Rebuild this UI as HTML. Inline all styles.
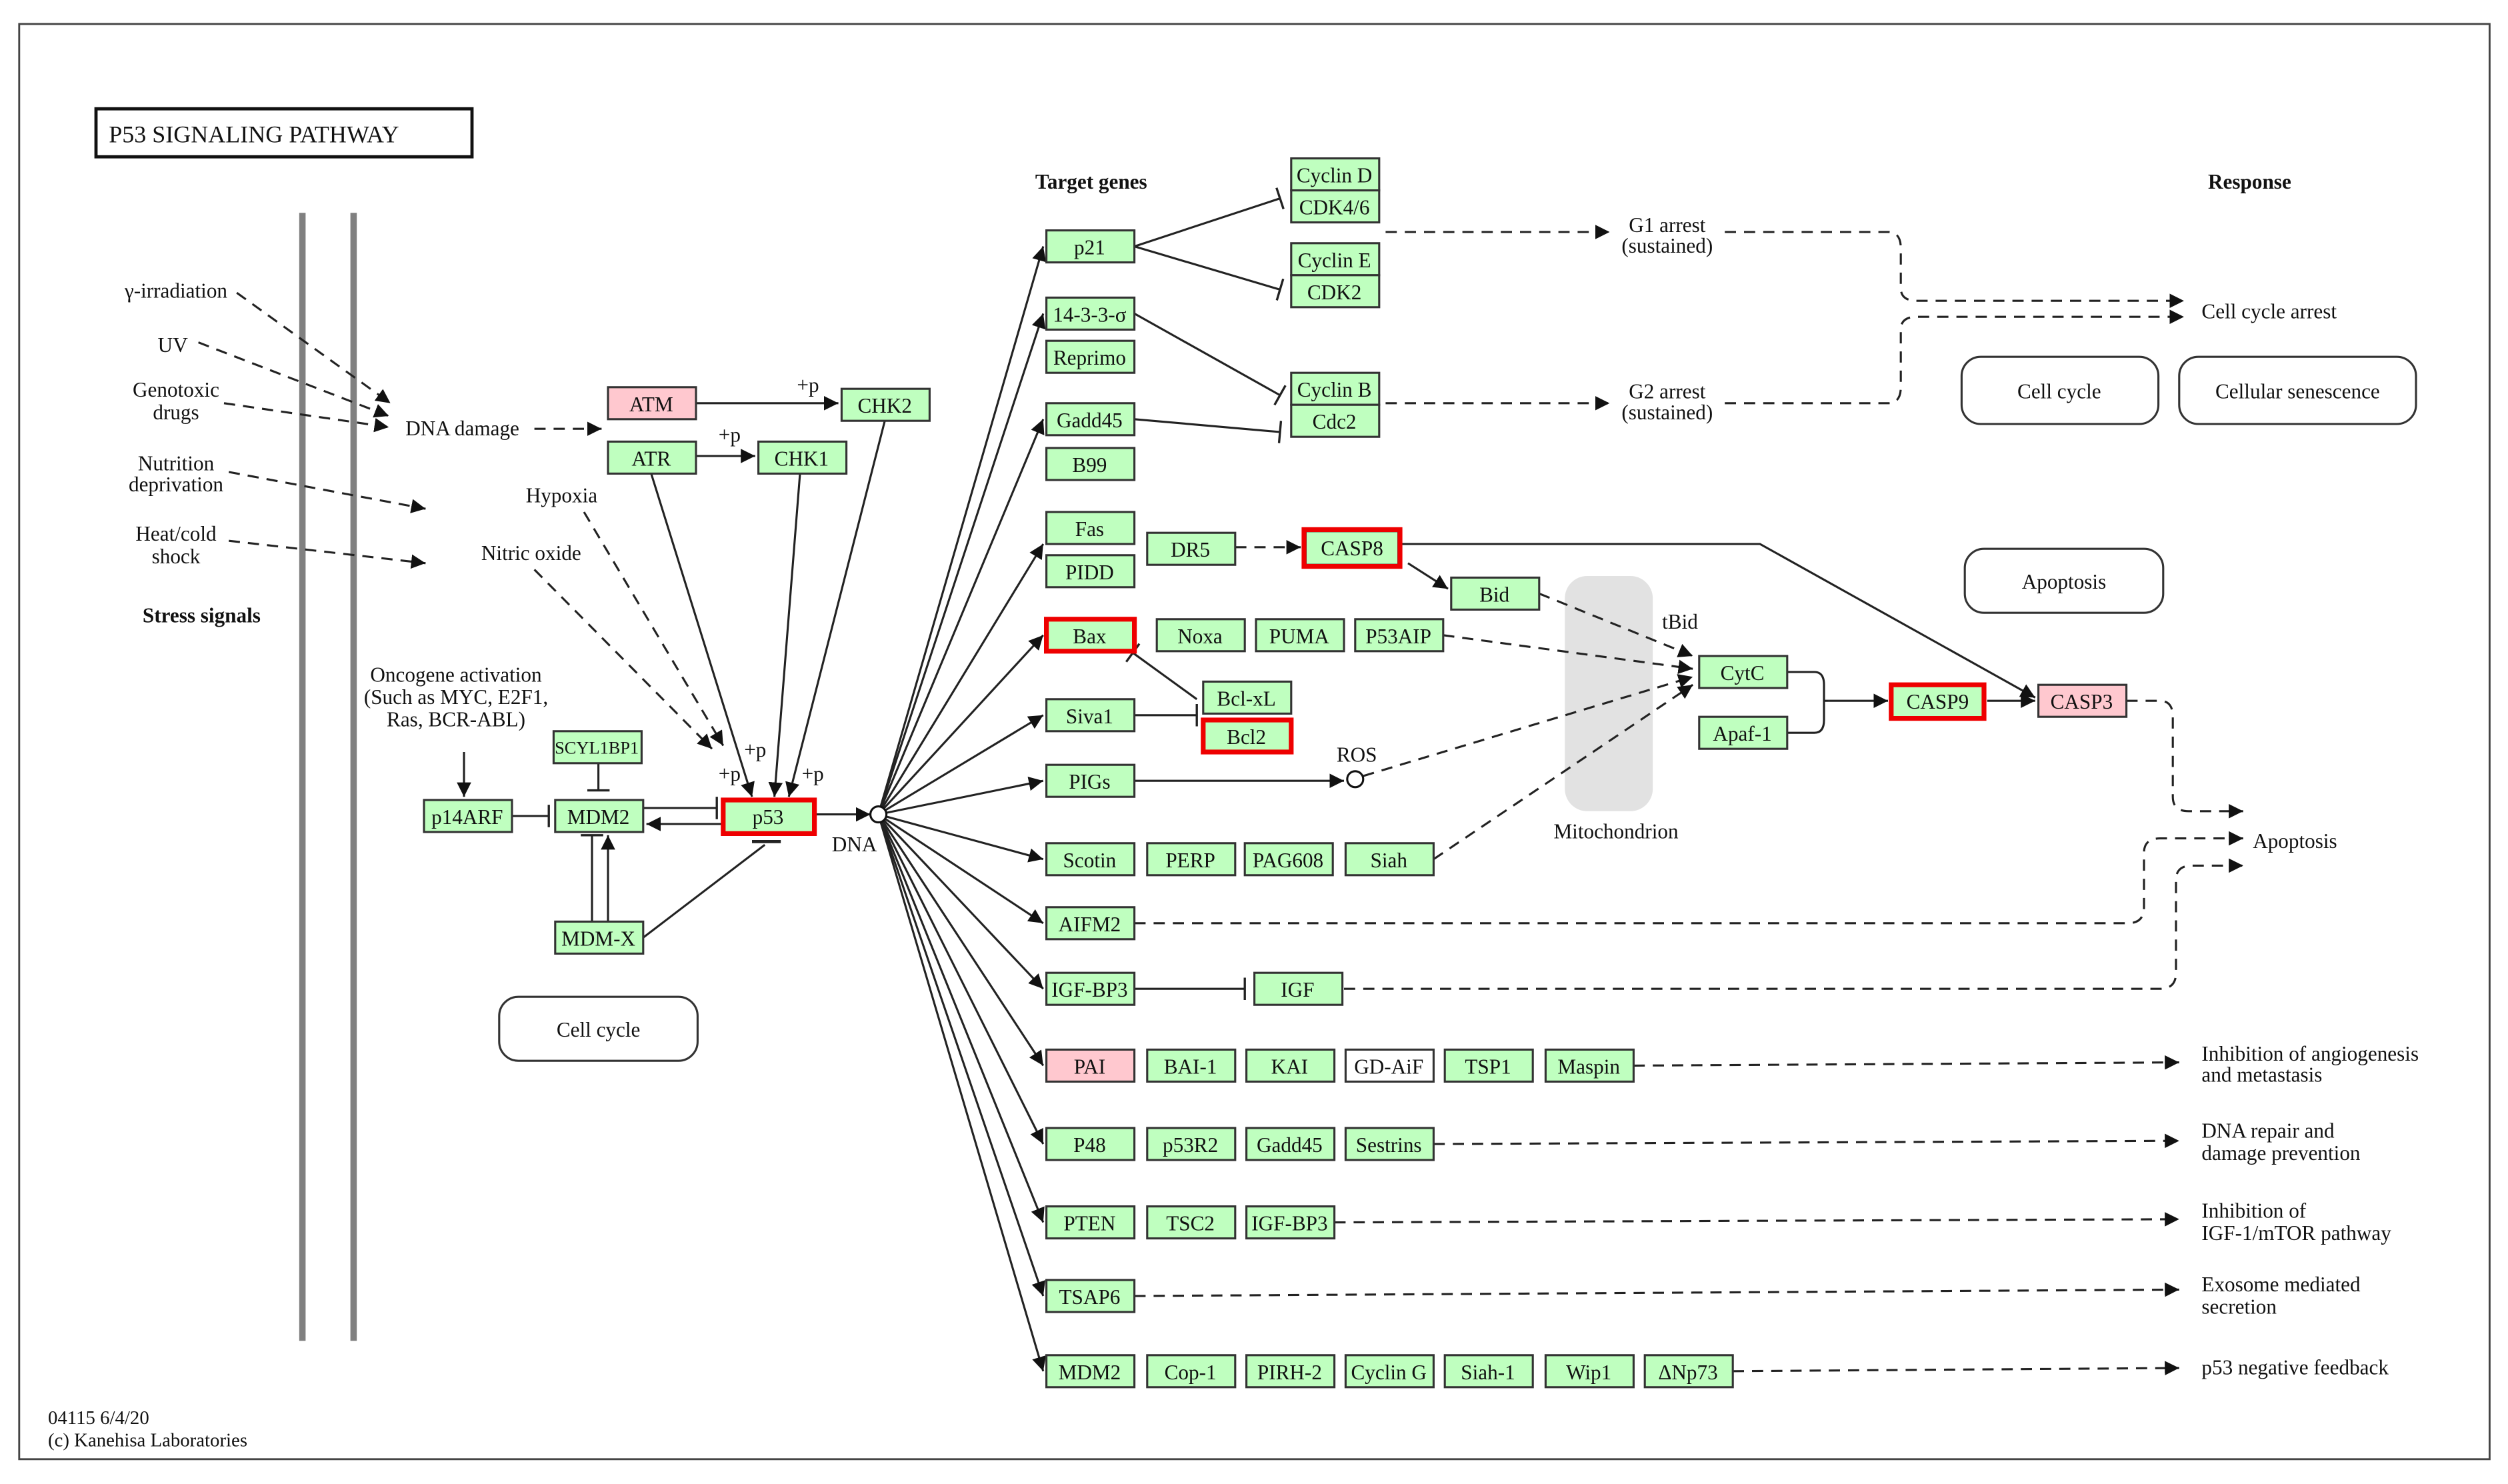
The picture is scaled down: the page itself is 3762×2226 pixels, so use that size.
<!DOCTYPE html>
<html><head><meta charset="utf-8"><style>
html,body{margin:0;padding:0;background:#fff;}
svg{display:block;}
text{font-family:"Liberation Serif",serif;font-size:13px;fill:#111;}
.n{fill:#bfffbf;stroke:#333;stroke-width:1.3;}
.pk{fill:#ffc8cf;stroke:#333;stroke-width:1.3;}
.wh{fill:#fff;stroke:#333;stroke-width:1.3;}
.red{fill:none;stroke:#e00;stroke-width:3;}
.l{stroke:#222;stroke-width:1.3;fill:none;}
.d{stroke:#222;stroke-width:1.3;fill:none;stroke-dasharray:7,5;}
.b{font-weight:bold;}
</style></head><body>
<svg width="3762" height="2226" viewBox="0 0 1567.5 927.5" xmlns="http://www.w3.org/2000/svg">
<defs>
<marker id="a" viewBox="0 0 10 10" refX="10" refY="5" markerWidth="9" markerHeight="9" markerUnits="userSpaceOnUse" orient="auto"><path d="M0,0L10,5L0,10z" fill="#111"/></marker>
<marker id="t" viewBox="0 0 4 20" refX="2" refY="10" markerWidth="4" markerHeight="14" markerUnits="userSpaceOnUse" orient="auto"><path d="M2,0V20" stroke="#222" stroke-width="2"/></marker>
</defs>
<rect x="12" y="15" width="1544" height="897" fill="none" stroke="#444" stroke-width="1.2"/>
<rect x="60" y="68" width="235" height="30" fill="#fff" stroke="#111" stroke-width="2"/>
<text x="68" y="89" style="font-size:15px">P53 SIGNALING PATHWAY</text>
<line x1="189" y1="133" x2="189" y2="838" stroke="#808080" stroke-width="4"/>
<line x1="221" y1="133" x2="221" y2="838" stroke="#808080" stroke-width="4"/>
<rect x="978" y="360" width="55" height="147" rx="14" fill="#e2e2e2"/>

<!-- rounded boxes -->
<rect x="1226" y="223" width="123" height="42" rx="12" fill="#fff" stroke="#333" stroke-width="1.3"/>
<text x="1287" y="249" text-anchor="middle">Cell cycle</text>
<rect x="1362" y="223" width="148" height="42" rx="12" fill="#fff" stroke="#333" stroke-width="1.3"/>
<text x="1436" y="249" text-anchor="middle">Cellular senescence</text>
<rect x="1228" y="343" width="124" height="40" rx="12" fill="#fff" stroke="#333" stroke-width="1.3"/>
<text x="1290" y="368" text-anchor="middle">Apoptosis</text>
<rect x="312" y="623" width="124" height="40" rx="12" fill="#fff" stroke="#333" stroke-width="1.3"/>
<text x="374" y="648" text-anchor="middle">Cell cycle</text>

<!-- edges -->
<g class="d" marker-end="url(#a)">
<path d="M148,183L244,252"/><path d="M124,214L243,260"/><path d="M140,252L243,267"/>
<path d="M143,295L266,318"/><path d="M143,338L266,352"/>
<path d="M334,268L376,268"/>
<path d="M365,320L452,466"/><path d="M334,356L445,468"/>
<path d="M866,145L1006,145"/><path d="M866,252L1006,252"/>
<path d="M1078,145H1180Q1188,145 1188,155V180Q1188,188 1198,188H1365"/>
<path d="M1078,252H1180Q1188,252 1188,242V206Q1188,198 1198,198H1365"/>
<path d="M772,342L813,342"/>
<path d="M962,371L1058,410"/><path d="M902,397L1058,418"/>
<path d="M852,485L1058,423"/><path d="M896,537L1058,428"/>
<path d="M1329,438H1350Q1358,438 1358,448V498Q1358,507 1368,507H1402"/>
<path d="M709,577H1330Q1340,577 1340,567V533Q1340,524 1350,524H1402"/>
<path d="M840,618H1350Q1360,618 1360,608V550Q1360,541 1370,541H1402"/>
<path d="M1021,666L1362,664"/><path d="M896,715L1362,713"/><path d="M834,764L1362,762"/>
<path d="M709,810L1362,806"/><path d="M1083,857L1362,855"/>
</g>
<g class="l" marker-end="url(#a)">
<path d="M435,252L524,252"/><path d="M435,285L472,285"/>
<path d="M407,296L470,498"/><path d="M500,296L484,498"/><path d="M553,263L493,498"/>
<path d="M290,470L290,498"/>
<path d="M452,515L404,515"/><path d="M380,576L380,522"/>
<path d="M509,509L544,509"/>
<path d="M549,509L652,154"/><path d="M549,509L652,196"/><path d="M549,509L652,262"/>
<path d="M549,509L652,340"/><path d="M549,509L652,397"/><path d="M549,509L652,447"/>
<path d="M549,509L652,488"/><path d="M549,509L652,537"/><path d="M549,509L652,577"/>
<path d="M549,509L652,618"/><path d="M549,509L652,666"/><path d="M549,509L652,715"/>
<path d="M549,509L652,764"/><path d="M549,509L652,810"/><path d="M549,509L652,857"/>
<path d="M880,352L905,368"/>
<path d="M876,340H1100L1272,436"/>
<path d="M709,488L840,488"/>
<path d="M1143,438L1180,438"/><path d="M1242,438L1272,438"/>
</g>
<g class="l" marker-end="url(#t)">
<path d="M320,510L343,510"/><path d="M374,477L374,494"/>
<path d="M402,505L448,505"/><path d="M370,576L370,522"/>
<path d="M709,154L800,124"/><path d="M709,154L800,181"/>
<path d="M709,196L800,247"/><path d="M709,262L800,270"/>
<path d="M748,437L708,408"/><path d="M709,447L748,447"/>
<path d="M709,618L778,618"/>
</g>
<path class="l" d="M402,586L478,528"/><line x1="470" y1="526" x2="488" y2="526" stroke="#222" stroke-width="2"/>
<path class="l" d="M1117,420H1134Q1140,420 1140,428V450Q1140,458 1134,458H1117M1140,438H1143"/>
<circle cx="549" cy="509" r="5" fill="#fff" stroke="#111" stroke-width="1.3"/>
<circle cx="847" cy="487" r="5" fill="#fff" stroke="#111" stroke-width="1.3"/>

<!-- nodes -->
<g>
<rect class="pk" x="380" y="242" width="55" height="20"/><text x="407" y="257" text-anchor="middle">ATM</text>
<rect class="n" x="526" y="243" width="55" height="20"/><text x="553" y="258" text-anchor="middle">CHK2</text>
<rect class="n" x="380" y="276" width="55" height="20"/><text x="407" y="291" text-anchor="middle">ATR</text>
<rect class="n" x="474" y="276" width="55" height="20"/><text x="501" y="291" text-anchor="middle">CHK1</text>
<rect class="n" x="346" y="457" width="55" height="20"/><text x="373" y="471" text-anchor="middle" style="font-size:11px">SCYL1BP1</text>
<rect class="n" x="265" y="500" width="55" height="20"/><text x="292" y="515" text-anchor="middle">p14ARF</text>
<rect class="n" x="347" y="500" width="55" height="20"/><text x="374" y="515" text-anchor="middle">MDM2</text>
<rect class="n" x="452" y="500" width="57" height="21"/><text x="480" y="515" text-anchor="middle">p53</text>
<rect class="red" x="452" y="500" width="57" height="21"/>
<rect class="n" x="347" y="576" width="55" height="20"/><text x="374" y="591" text-anchor="middle">MDM-X</text>

<rect class="n" x="654" y="144" width="55" height="20"/><text x="681" y="159" text-anchor="middle">p21</text>
<rect class="n" x="654" y="186" width="55" height="20"/><text x="681" y="201" text-anchor="middle">14-3-3-σ</text>
<rect class="n" x="654" y="213" width="55" height="20"/><text x="681" y="228" text-anchor="middle">Reprimo</text>
<rect class="n" x="654" y="252" width="55" height="20"/><text x="681" y="267" text-anchor="middle">Gadd45</text>
<rect class="n" x="654" y="280" width="55" height="20"/><text x="681" y="295" text-anchor="middle">B99</text>
<rect class="n" x="654" y="320" width="55" height="20"/><text x="681" y="335" text-anchor="middle">Fas</text>
<rect class="n" x="654" y="347" width="55" height="20"/><text x="681" y="362" text-anchor="middle">PIDD</text>
<rect class="n" x="654" y="387" width="55" height="20"/><text x="681" y="402" text-anchor="middle">Bax</text>
<rect class="red" x="654" y="387" width="55" height="20"/>
<rect class="n" x="654" y="437" width="55" height="20"/><text x="681" y="452" text-anchor="middle">Siva1</text>
<rect class="n" x="654" y="478" width="55" height="20"/><text x="681" y="493" text-anchor="middle">PIGs</text>
<rect class="n" x="654" y="527" width="55" height="20"/><text x="681" y="542" text-anchor="middle">Scotin</text>
<rect class="n" x="717" y="527" width="55" height="20"/><text x="744" y="542" text-anchor="middle">PERP</text>
<rect class="n" x="778" y="527" width="55" height="20"/><text x="805" y="542" text-anchor="middle">PAG608</text>
<rect class="n" x="841" y="527" width="55" height="20"/><text x="868" y="542" text-anchor="middle">Siah</text>
<rect class="n" x="654" y="567" width="55" height="20"/><text x="681" y="582" text-anchor="middle">AIFM2</text>
<rect class="n" x="654" y="608" width="55" height="20"/><text x="681" y="623" text-anchor="middle">IGF-BP3</text>
<rect class="n" x="784" y="608" width="55" height="20"/><text x="811" y="623" text-anchor="middle">IGF</text>
<rect class="pk" x="654" y="656" width="55" height="20"/><text x="681" y="671" text-anchor="middle">PAI</text>
<rect class="n" x="717" y="656" width="55" height="20"/><text x="744" y="671" text-anchor="middle">BAI-1</text>
<rect class="n" x="779" y="656" width="55" height="20"/><text x="806" y="671" text-anchor="middle">KAI</text>
<rect class="wh" x="841" y="656" width="55" height="20"/><text x="868" y="671" text-anchor="middle">GD-AiF</text>
<rect class="n" x="903" y="656" width="55" height="20"/><text x="930" y="671" text-anchor="middle">TSP1</text>
<rect class="n" x="966" y="656" width="55" height="20"/><text x="993" y="671" text-anchor="middle">Maspin</text>
<rect class="n" x="654" y="705" width="55" height="20"/><text x="681" y="720" text-anchor="middle">P48</text>
<rect class="n" x="717" y="705" width="55" height="20"/><text x="744" y="720" text-anchor="middle">p53R2</text>
<rect class="n" x="779" y="705" width="55" height="20"/><text x="806" y="720" text-anchor="middle">Gadd45</text>
<rect class="n" x="841" y="705" width="55" height="20"/><text x="868" y="720" text-anchor="middle">Sestrins</text>
<rect class="n" x="654" y="754" width="55" height="20"/><text x="681" y="769" text-anchor="middle">PTEN</text>
<rect class="n" x="717" y="754" width="55" height="20"/><text x="744" y="769" text-anchor="middle">TSC2</text>
<rect class="n" x="779" y="754" width="55" height="20"/><text x="806" y="769" text-anchor="middle">IGF-BP3</text>
<rect class="n" x="654" y="800" width="55" height="20"/><text x="681" y="815" text-anchor="middle">TSAP6</text>
<rect class="n" x="654" y="847" width="55" height="20"/><text x="681" y="862" text-anchor="middle">MDM2</text>
<rect class="n" x="717" y="847" width="55" height="20"/><text x="744" y="862" text-anchor="middle">Cop-1</text>
<rect class="n" x="779" y="847" width="55" height="20"/><text x="806" y="862" text-anchor="middle">PIRH-2</text>
<rect class="n" x="841" y="847" width="55" height="20"/><text x="868" y="862" text-anchor="middle">Cyclin G</text>
<rect class="n" x="903" y="847" width="55" height="20"/><text x="930" y="862" text-anchor="middle">Siah-1</text>
<rect class="n" x="966" y="847" width="55" height="20"/><text x="993" y="862" text-anchor="middle">Wip1</text>
<rect class="n" x="1028" y="847" width="55" height="20"/><text x="1055" y="862" text-anchor="middle">ΔNp73</text>

<rect class="n" x="807" y="99" width="55" height="20"/><text x="834" y="114" text-anchor="middle">Cyclin D</text>
<rect class="n" x="807" y="119" width="55" height="20"/><text x="834" y="134" text-anchor="middle">CDK4/6</text>
<rect class="n" x="807" y="152" width="55" height="20"/><text x="834" y="167" text-anchor="middle">Cyclin E</text>
<rect class="n" x="807" y="172" width="55" height="20"/><text x="834" y="187" text-anchor="middle">CDK2</text>
<rect class="n" x="807" y="233" width="55" height="20"/><text x="834" y="248" text-anchor="middle">Cyclin B</text>
<rect class="n" x="807" y="253" width="55" height="20"/><text x="834" y="268" text-anchor="middle">Cdc2</text>
<rect class="n" x="717" y="333" width="55" height="20"/><text x="744" y="348" text-anchor="middle">DR5</text>
<rect class="n" x="816" y="332" width="58" height="21"/><text x="845" y="347" text-anchor="middle">CASP8</text>
<rect class="red" x="815" y="331" width="60" height="23"/>
<rect class="n" x="907" y="361" width="55" height="20"/><text x="934" y="376" text-anchor="middle">Bid</text>
<rect class="n" x="723" y="387" width="55" height="20"/><text x="750" y="402" text-anchor="middle">Noxa</text>
<rect class="n" x="785" y="387" width="55" height="20"/><text x="812" y="402" text-anchor="middle">PUMA</text>
<rect class="n" x="847" y="387" width="55" height="20"/><text x="874" y="402" text-anchor="middle">P53AIP</text>
<rect class="n" x="752" y="426" width="55" height="20"/><text x="779" y="441" text-anchor="middle">Bcl-xL</text>
<rect class="n" x="752" y="450" width="55" height="20"/><text x="779" y="465" text-anchor="middle">Bcl2</text>
<rect class="red" x="752" y="450" width="55" height="20"/>
<rect class="n" x="1062" y="410" width="55" height="20"/><text x="1089" y="425" text-anchor="middle">CytC</text>
<rect class="n" x="1062" y="448" width="55" height="20"/><text x="1089" y="463" text-anchor="middle">Apaf-1</text>
<rect class="n" x="1182" y="428" width="58" height="21"/><text x="1211" y="443" text-anchor="middle">CASP9</text>
<rect class="red" x="1182" y="428" width="58" height="21"/>
<rect class="pk" x="1274" y="428" width="55" height="20"/><text x="1301" y="443" text-anchor="middle">CASP3</text>
</g>

<!-- labels -->
<text x="682" y="118" text-anchor="middle" class="b">Target genes</text>
<text x="1406" y="118" text-anchor="middle" class="b">Response</text>
<text x="126" y="389" text-anchor="middle" class="b">Stress signals</text>
<text x="1042" y="145" text-anchor="middle">G1 arrest</text><text x="1042" y="158" text-anchor="middle">(sustained)</text>
<text x="1042" y="249" text-anchor="middle">G2 arrest</text><text x="1042" y="262" text-anchor="middle">(sustained)</text>
<text x="1376" y="199">Cell cycle arrest</text>
<text x="1408" y="530">Apoptosis</text>
<text x="1376" y="663">Inhibition of angiogenesis</text><text x="1376" y="676">and metastasis</text>
<text x="1376" y="711">DNA repair and</text><text x="1376" y="725">damage prevention</text>
<text x="1376" y="761">Inhibition of</text><text x="1376" y="775">IGF-1/mTOR pathway</text>
<text x="1376" y="807">Exosome mediated</text><text x="1376" y="821">secretion</text>
<text x="1376" y="859">p53 negative feedback</text>
<text x="110" y="186" text-anchor="middle">γ-irradiation</text>
<text x="108" y="220" text-anchor="middle">UV</text>
<text x="110" y="248" text-anchor="middle">Genotoxic</text><text x="110" y="262" text-anchor="middle">drugs</text>
<text x="110" y="294" text-anchor="middle">Nutrition</text><text x="110" y="307" text-anchor="middle">deprivation</text>
<text x="110" y="338" text-anchor="middle">Heat/cold</text><text x="110" y="352" text-anchor="middle">shock</text>
<text x="289" y="272" text-anchor="middle">DNA damage</text>
<text x="351" y="314" text-anchor="middle">Hypoxia</text>
<text x="332" y="350" text-anchor="middle">Nitric oxide</text>
<text x="285" y="426" text-anchor="middle">Oncogene activation</text>
<text x="285" y="440" text-anchor="middle">(Such as MYC, E2F1,</text>
<text x="285" y="454" text-anchor="middle">Ras, BCR-ABL)</text>
<text x="505" y="245" text-anchor="middle">+p</text>
<text x="456" y="276" text-anchor="middle">+p</text>
<text x="472" y="473" text-anchor="middle">+p</text>
<text x="456" y="488" text-anchor="middle">+p</text>
<text x="508" y="488" text-anchor="middle">+p</text>
<text x="534" y="532" text-anchor="middle">DNA</text>
<text x="848" y="476" text-anchor="middle">ROS</text>
<text x="1050" y="393" text-anchor="middle">tBid</text>
<text x="1010" y="524" text-anchor="middle">Mitochondrion</text>
<text x="30" y="890" style="font-size:12px">04115 6/4/20</text>
<text x="30" y="904" style="font-size:12px">(c) Kanehisa Laboratories</text>
</svg>
</body></html>
